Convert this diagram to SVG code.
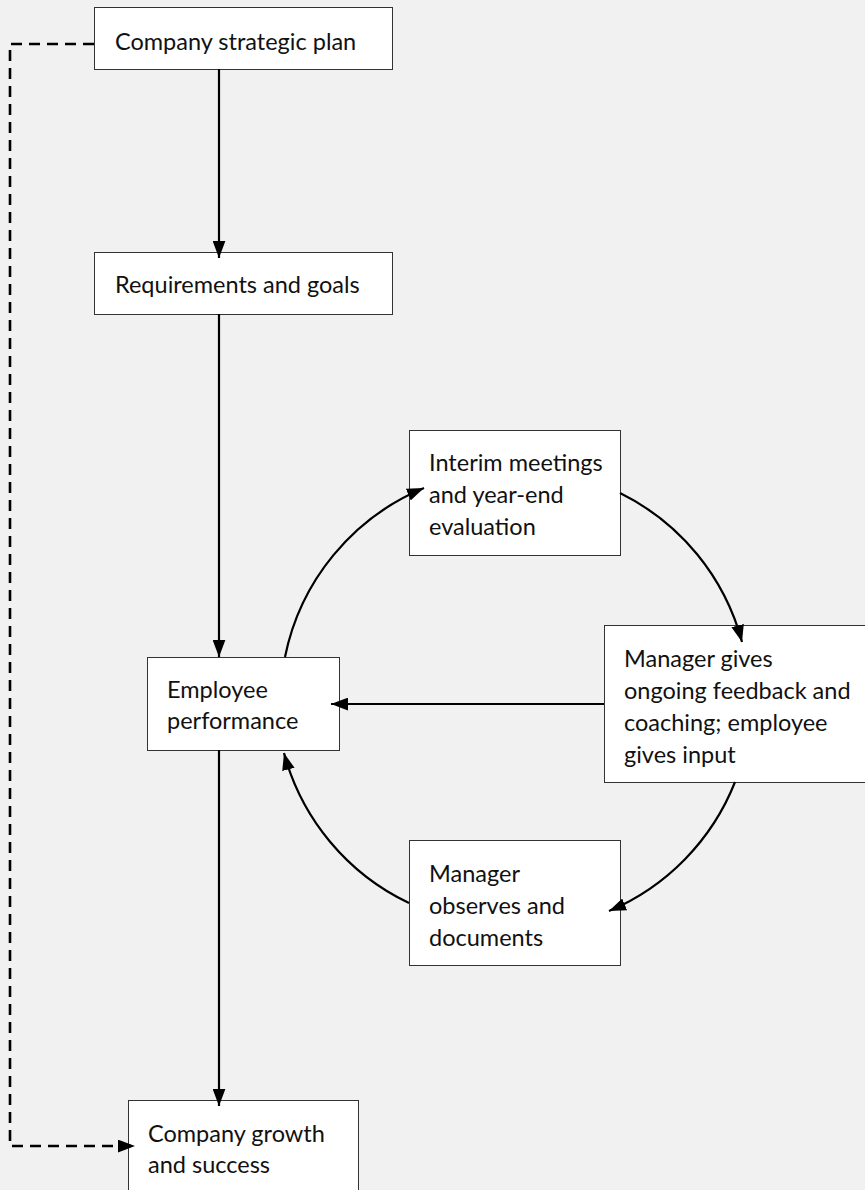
<svg xmlns="http://www.w3.org/2000/svg" width="865" height="1190" viewBox="0 0 865 1190">
<defs>
<style>
.box{fill:#fff;stroke:#333;stroke-width:1}
.t{font-family:Lato,"Open Sans","Liberation Sans",sans-serif;font-size:23.5px;fill:#111}
.c{fill:none;stroke:#000;stroke-width:2.2}
.d{fill:none;stroke:#000;stroke-width:2.6;stroke-dasharray:11 7}
</style>
<marker id="ah" viewBox="0 0 16 12" refX="16" refY="6" markerWidth="17" markerHeight="13" markerUnits="userSpaceOnUse" orient="auto">
<path d="M0,0 L16,6 L0,12 z" fill="#000"/>
</marker>
</defs>
<rect width="865" height="1190" fill="#f1f1f1"/>
<g id="n1"><rect class="box" x="94.5" y="7.5" width="298" height="62"/><text class="t" x="115" y="50">Company strategic plan</text></g>
<g id="n2"><rect class="box" x="94.5" y="252.5" width="298" height="62"/><text class="t" x="115" y="293">Requirements and goals</text></g>
<g id="n3"><rect class="box" x="147.5" y="657.5" width="192" height="93"/><text class="t" x="167" y="698">Employee</text><text class="t" x="167" y="729">performance</text></g>
<g id="n4"><rect class="box" x="409.5" y="430.5" width="211" height="125"/><text class="t" x="429" y="471">Interim meetings</text><text class="t" x="429" y="503">and year-end</text><text class="t" x="429" y="535">evaluation</text></g>
<g id="n5"><rect class="box" x="604.5" y="625.5" width="265" height="157"/><text class="t" x="624" y="667">Manager gives</text><text class="t" x="624" y="699">ongoing feedback and</text><text class="t" x="624" y="731">coaching; employee</text><text class="t" x="624" y="763">gives input</text></g>
<g id="n6"><rect class="box" x="409.5" y="840.5" width="211" height="125"/><text class="t" x="429" y="882">Manager</text><text class="t" x="429" y="914">observes and</text><text class="t" x="429" y="946">documents</text></g>
<g id="n7"><rect class="box" x="128.5" y="1100.5" width="230" height="100"/><text class="t" x="148" y="1142">Company growth</text><text class="t" x="148" y="1173">and success</text></g>
<g id="connectors">
<line class="c" x1="219" y1="69" x2="219" y2="258" marker-end="url(#ah)"/>
<line class="c" x1="219" y1="314" x2="219" y2="657" marker-end="url(#ah)"/>
<line class="c" x1="219" y1="750" x2="219" y2="1106" marker-end="url(#ah)"/>
<line class="c" x1="604" y1="704" x2="331" y2="704" marker-end="url(#ah)"/>
<path class="c" d="M285,657 A233,233 0 0 1 424,488" marker-end="url(#ah)"/>
<path class="c" d="M620,493 A233,233 0 0 1 742,642" marker-end="url(#ah)"/>
<path class="c" d="M735,782 A233,233 0 0 1 609,911" marker-end="url(#ah)"/>
<path class="c" d="M409,903 A233,233 0 0 1 284,753" marker-end="url(#ah)"/>
<path class="d" d="M94,44 H10 V1146 H135" marker-end="url(#ah)"/>
</g>
</svg>
